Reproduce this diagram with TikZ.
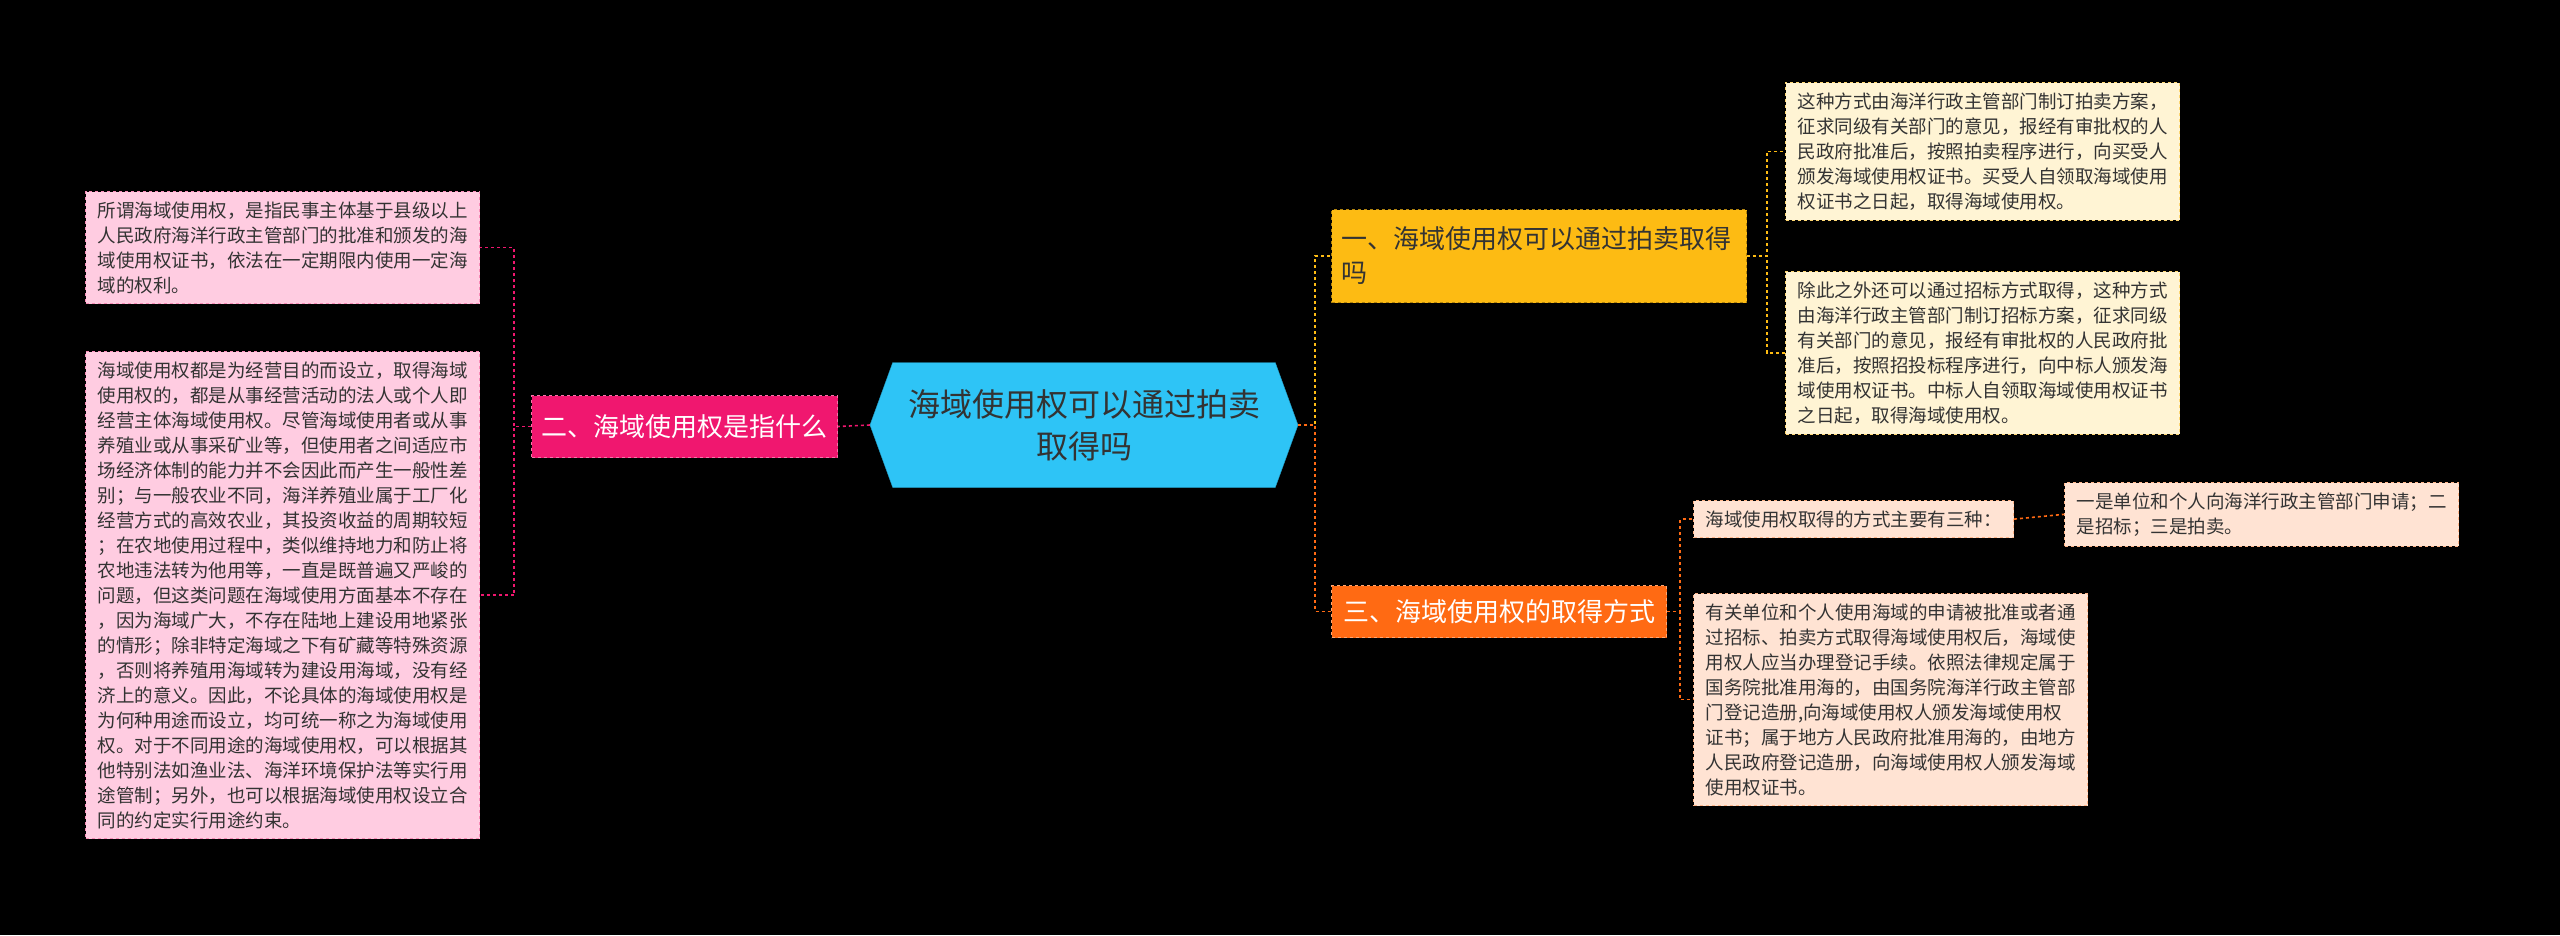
\documentclass[tikz,border=0pt]{standalone}
\usepackage{fontspec}
\newfontfamily\cjk{Noto Sans CJK SC}
\usetikzlibrary{shapes.symbols}
\definecolor{hubblue}{HTML}{2EC4F6}
\definecolor{goldbar}{HTML}{FDBB13}
\definecolor{rosebar}{HTML}{F0176F}
\definecolor{rustbar}{HTML}{FF6A13}
\definecolor{rosefill}{HTML}{FFCCE1}
\definecolor{creamfill}{HTML}{FFF4D4}
\definecolor{peachfill}{HTML}{FFE3D3}
\tikzset{
  every node/.style={font=\cjk},
  topic/.style={draw, dashed, line width=1pt, anchor=north west, align=left,
    inner xsep=10pt, font=\cjk\fontsize{26}{34}\selectfont},
  leaf/.style={draw, dashed, line width=1pt, anchor=north west, align=left,
    inner xsep=12pt, inner ysep=10pt, font=\cjk\fontsize{18.5}{25}\selectfont, text=black!80},
  link/.style={dashed, line width=1.6pt}
}
\begin{document}
\begin{tikzpicture}[x=1pt,y=-1pt]
  \fill[black] (0,0) rectangle (2560,935);
  \useasboundingbox (0,0) rectangle (2560,935);

  % centre
  \node (hub) [shape=signal, signal to=east and west, signal pointer angle=140,
    fill=hubblue, draw=hubblue!80!black, minimum width=428pt, minimum height=125pt,
    align=center, text=black!80, font=\cjk\fontsize{32}{42}\selectfont]
    at (1084,425) {海域使用权可以通过拍卖\\取得吗};

  % left branch
  \node (what) [topic, fill=rosebar, draw=rosebar!60, text=white,
    minimum width=303pt, minimum height=62pt] at (531,395) {二、海域使用权是指什么};
  \node (def) [leaf, fill=rosefill, draw=rosebar!50] at (85,191)
    {所谓海域使用权，是指民事主体基于县级以上\\人民政府海洋行政主管部门的批准和颁发的海\\域使用权证书，依法在一定期限内使用一定海\\域的权利。};
  \node (use) [leaf, fill=rosefill, draw=rosebar!50] at (85,351)
    {海域使用权都是为经营目的而设立，取得海域\\使用权的，都是从事经营活动的法人或个人即\\经营主体海域使用权。尽管海域使用者或从事\\养殖业或从事采矿业等，但使用者之间适应市\\场经济体制的能力并不会因此而产生一般性差\\别；与一般农业不同，海洋养殖业属于工厂化\\经营方式的高效农业，其投资收益的周期较短\\；在农地使用过程中，类似维持地力和防止将\\农地违法转为他用等，一直是既普遍又严峻的\\问题，但这类问题在海域使用方面基本不存在\\，因为海域广大，不存在陆地上建设用地紧张\\的情形；除非特定海域之下有矿藏等特殊资源\\，否则将养殖用海域转为建设用海域，没有经\\济上的意义。因此，不论具体的海域使用权是\\为何种用途而设立，均可统一称之为海域使用\\权。对于不同用途的海域使用权，可以根据其\\他特别法如渔业法、海洋环境保护法等实行用\\途管制；另外，也可以根据海域使用权设立合\\同的约定实行用途约束。};

  % right branch, auction
  \node (auction) [topic, fill=goldbar, draw=goldbar!70!black, text=black!80,
    text width=395pt, minimum height=93pt] at (1331,209) {一、海域使用权可以通过拍卖取得\\吗};
  \node (sale) [leaf, fill=creamfill, draw=goldbar!60] at (1785,82)
    {这种方式由海洋行政主管部门制订拍卖方案，\\征求同级有关部门的意见，报经有审批权的人\\民政府批准后，按照拍卖程序进行，向买受人\\颁发海域使用权证书。买受人自领取海域使用\\权证书之日起，取得海域使用权。};
  \node (tender) [leaf, fill=creamfill, draw=goldbar!60] at (1785,271)
    {除此之外还可以通过招标方式取得，这种方式\\由海洋行政主管部门制订招标方案，征求同级\\有关部门的意见，报经有审批权的人民政府批\\准后，按照招投标程序进行，向中标人颁发海\\域使用权证书。中标人自领取海域使用权证书\\之日起，取得海域使用权。};

  % right branch, ways
  \node (ways) [topic, fill=rustbar, draw=rustbar!60, text=white,
    minimum width=335pt, minimum height=52pt] at (1331,585) {三、海域使用权的取得方式};
  \node (three) [leaf, fill=peachfill, draw=rustbar!50] at (1693,500)
    {海域使用权取得的方式主要有三种：};
  \node (list) [leaf, fill=peachfill, draw=rustbar!50] at (2064,482)
    {一是单位和个人向海洋行政主管部门申请；二\\是招标；三是拍卖。};
  \node (reg) [leaf, fill=peachfill, draw=rustbar!50] at (1693,593)
    {有关单位和个人使用海域的申请被批准或者通\\过招标、拍卖方式取得海域使用权后，海域使\\用权人应当办理登记手续。依照法律规定属于\\国务院批准用海的，由国务院海洋行政主管部\\门登记造册,向海域使用权人颁发海域使用权\\证书；属于地方人民政府批准用海的，由地方\\人民政府登记造册，向海域使用权人颁发海域\\使用权证书。};

  \draw[link, rosebar] (hub.west) -- (what.east);
  \draw[link, rosebar] (what.west) -- ++(-17,0) |- (def.east);
  \draw[link, rosebar] (what.west) -- ++(-17,0) |- (use.east);
  \draw[link, goldbar] (hub.east) -- ++(17,0) |- (auction.west);
  \draw[link, rustbar] (hub.east) -- ++(17,0) |- (ways.west);
  \draw[link, goldbar] (auction.east) -- ++(20,0) |- (sale.west);
  \draw[link, goldbar] (auction.east) -- ++(20,0) |- (tender.west);
  \draw[link, rustbar] (ways.east) -- ++(13,0) |- (three.west);
  \draw[link, rustbar] (ways.east) -- ++(13,0) |- (reg.west);
  \draw[link, rustbar] (three.east) -- (list.west);
\end{tikzpicture}
\end{document}
